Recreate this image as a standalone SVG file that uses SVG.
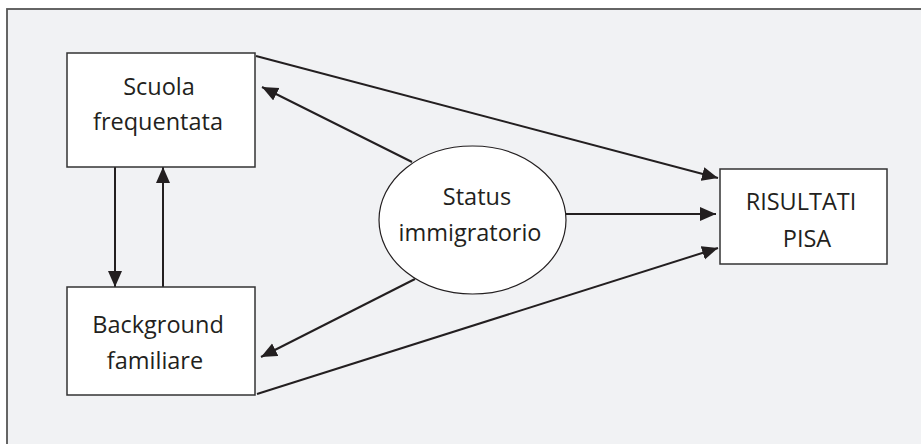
<svg xmlns="http://www.w3.org/2000/svg" width="921" height="444" viewBox="0 0 921 444">
<style>
.box{fill:#fff;stroke:#333;stroke-width:1.5}
.ell{fill:#fff;stroke:#231f20;stroke-width:1.2}
.t{font-family:"Open Sans","Noto Sans",sans-serif;font-size:23.5px;fill:#231f20;text-anchor:middle}
.c{stroke:#231f20;stroke-width:2;fill:none;marker-end:url(#ah)}
</style>
<defs>
<marker id="ah" markerUnits="userSpaceOnUse" markerWidth="17" markerHeight="15" refX="16" refY="7" orient="auto">
<path d="M0,0 L16,7 L0,14 z" fill="#231f20"/>
</marker>
</defs>
<rect x="0" y="0" width="921" height="444" fill="#fff"/>
<rect x="7" y="9" width="930" height="450" fill="#f1f2f4" stroke="#555" stroke-width="1.8"/>
<g id="connectors">
<line class="c" x1="256" y1="56" x2="718" y2="178"/>
<line class="c" x1="412" y1="162" x2="262" y2="87"/>
<line class="c" x1="566" y1="214" x2="716" y2="214"/>
<line class="c" x1="415" y1="279" x2="261" y2="357"/>
<line class="c" x1="257" y1="394" x2="718" y2="248"/>
<line class="c" x1="115" y1="167" x2="115" y2="287"/>
<line class="c" x1="163" y1="287" x2="163" y2="167"/>
</g>
<g id="scuola">
<rect class="box" x="67" y="53" width="188" height="114"/>
<text class="t" x="159" y="95">Scuola</text>
<text class="t" x="158" y="130">frequentata</text>
</g>
<g id="background">
<rect class="box" x="67" y="287" width="188" height="108"/>
<text class="t" x="158" y="333">Background</text>
<text class="t" x="155" y="369">familiare</text>
</g>
<g id="status">
<ellipse class="ell" cx="472.5" cy="220" rx="93.5" ry="74"/>
<text class="t" x="477" y="205">Status</text>
<text class="t" x="470" y="241">immigratorio</text>
</g>
<g id="risultati">
<rect class="box" x="720" y="169" width="167" height="95"/>
<text class="t" x="801" y="210">RISULTATI</text>
<text class="t" x="807" y="247">PISA</text>
</g>
</svg>
